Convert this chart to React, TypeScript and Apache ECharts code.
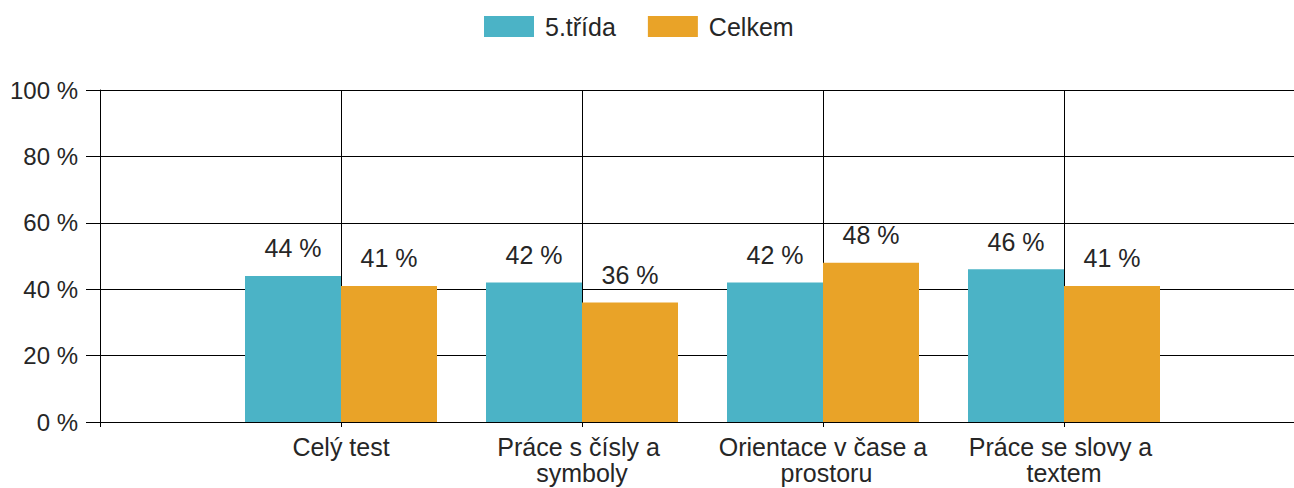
import React, { useEffect, useRef } from "react";
import * as echarts from "echarts";

// Leading/trailing empty slots keep the axis layout of the original
const categories = ["", "Celý test", "Práce s čísly a symboly", "Orientace v čase a prostoru", "Práce se slovy a textem", ""];
const seriesNames = ["5.třída", "Celkem"];
const trida5 = [null, 44, 42, 42, 46, null];
const celkem = [null, 41, 36, 48, 41, null];
const yTicks = [0, 20, 40, 60, 80, 100];

const TEXT = "#262626";
const FONT = "'Liberation Sans', Arial, sans-serif";

export default function App() {
  const ref = useRef<HTMLDivElement>(null);
  useEffect(() => {
    if (!ref.current) return;
    const chart = echarts.init(ref.current, undefined, { renderer: "svg" });
    const labelCfg = {
      show: true,
      position: "top",
      distance: 15,
      formatter: (p: any) => `${p.value} %`,
      color: TEXT,
      fontSize: 25,
      fontFamily: FONT,
    };
    chart.setOption({
      animation: false,
      textStyle: { fontFamily: FONT, color: TEXT },
      legend: {
        top: 14,
        left: 484,
        padding: 0,
        icon: "rect",
        itemWidth: 50,
        itemHeight: 21,
        itemGap: 32,
        textStyle: { fontSize: 25, color: TEXT, fontFamily: FONT, padding: [0, 0, 0, 6] },
        data: seriesNames,
      },
      grid: {
        left: 100,
        right: -11,
        top: 90,
        bottom: 66,
        containLabel: false,
        outerBoundsMode: "none",
      },
      xAxis: {
        type: "category",
        boundaryGap: false,
        data: categories,
        axisLine: { show: true, lineStyle: { color: "#000", width: 1 } },
        axisTick: { show: true, length: 5, lineStyle: { color: "#000" } },
        splitLine: { show: true, lineStyle: { color: "#000", width: 1 } },
        axisLabel: {
          interval: 0,
          margin: 12,
          fontSize: 25,
          lineHeight: 26,
          color: TEXT,
          fontFamily: FONT,
          width: 226,
          overflow: "break",
          hideOverlap: false,
        },
      },
      yAxis: {
        type: "value",
        min: yTicks[0],
        max: yTicks[yTicks.length - 1],
        interval: 20,
        axisLine: { show: true, lineStyle: { color: "#000", width: 1 } },
        axisTick: { show: true, length: 14, lineStyle: { color: "#000" } },
        splitLine: { show: true, lineStyle: { color: "#000", width: 1 } },
        axisLabel: {
          formatter: "{value} %",
          margin: 22,
          fontSize: 24,
          color: TEXT,
          fontFamily: FONT,
        },
      },
      series: [
        {
          name: seriesNames[0],
          type: "bar",
          data: trida5,
          barWidth: 96,
          barGap: "0%",
          itemStyle: { color: "#4bb3c6" },
          label: labelCfg,
        },
        {
          name: seriesNames[1],
          type: "bar",
          data: celkem,
          barWidth: 96,
          barGap: "0%",
          itemStyle: { color: "#e9a328" },
          label: labelCfg,
        },
      ],
    });
    return () => chart.dispose();
  }, []);
  return (
    <div
      ref={ref}
      style={{ position: "fixed", left: 0, top: 0, width: 1294, height: 488, background: "#fff" }}
    />
  );
}
